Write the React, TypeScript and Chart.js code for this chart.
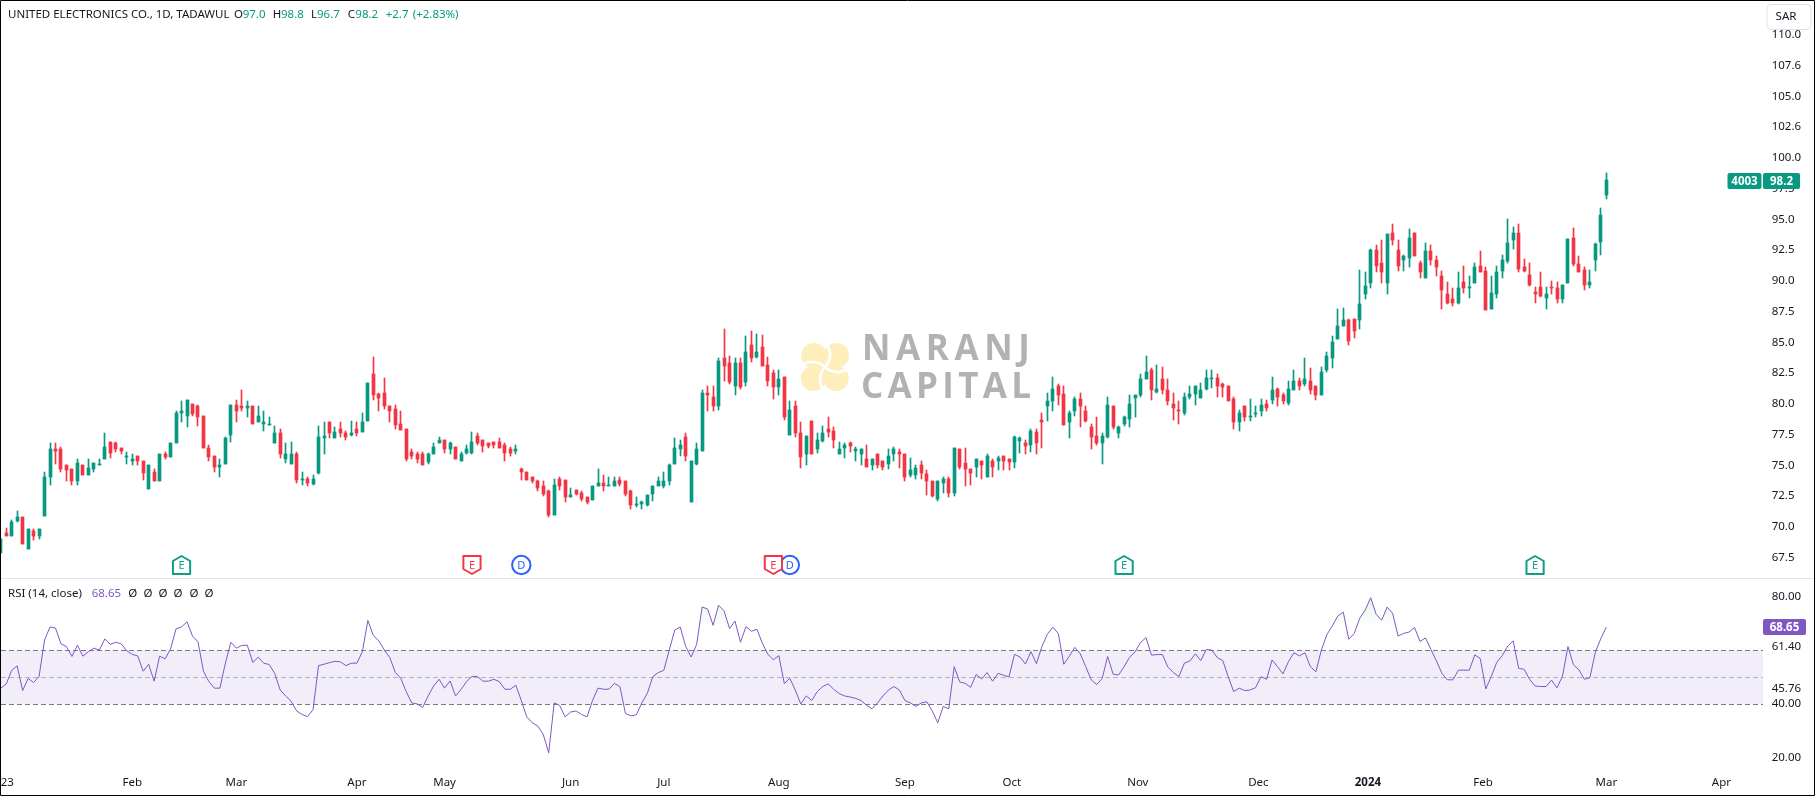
import React, { useEffect, useRef } from "react";
import { Chart, registerables } from "chart.js";

Chart.register(...registerables);

const opens = [
  67.9,69.5,69.3,70.5,70.8,68.2,69.7,69.3,70.9,74.1,
  76.3,76.3,75.0,74.7,73.7,75.0,74.2,74.7,75.0,75.5,
  76.9,76.8,76.4,75.7,75.4,75.8,75.4,73.1,74.5,73.7,
  75.9,75.7,76.8,79.3,79.0,80.0,79.8,79.0,76.4,75.8,
  74.9,75.1,77.5,79.9,79.8,79.7,79.8,78.5,78.4,78.3,
  76.8,77.6,75.5,75.1,75.9,73.8,73.9,73.5,74.4,77.2,
  78.5,77.2,78.0,77.6,77.5,78.0,77.7,78.6,82.4,80.8,
  80.9,79.8,79.6,78.4,78.0,76.1,75.9,75.9,75.3,75.9,
  76.8,77.1,76.3,76.5,75.4,76.0,76.0,77.4,77.1,76.8,
  76.9,76.9,76.7,76.3,76.2,74.7,74.5,74.1,73.7,73.3,
  72.9,71.0,73.9,73.8,72.4,73.0,72.8,72.4,72.2,73.3,
  73.6,73.3,73.3,73.8,73.7,72.9,71.8,71.9,71.8,72.7,
  73.3,73.3,73.7,75.1,76.3,77.3,72.0,75.1,76.2,80.9,
  80.6,79.8,83.7,83.3,81.5,83.3,81.8,84.8,83.8,84.6,
  83.2,82.5,81.4,82.2,77.5,79.8,77.6,75.9,78.6,76.3,
  77.0,78.0,77.8,75.9,76.4,76.8,76.2,75.9,75.5,75.0,
  75.9,75.4,75.1,75.9,76.1,75.9,74.2,74.2,75.0,74.3,
  73.7,72.3,73.6,73.9,72.8,76.3,75.2,74.7,74.9,75.4,
  74.1,75.4,75.4,75.8,75.5,75.3,77.0,76.8,76.7,77.7,
  78.7,79.8,80.2,81.5,80.8,78.5,79.4,80.4,79.4,78.1,
  77.4,76.8,77.3,79.8,77.6,78.4,78.8,80.5,80.7,82.0,
  82.8,81.0,82.0,81.1,80.0,79.5,79.3,80.6,80.8,80.5,
  81.2,82.0,82.1,81.6,81.5,80.4,78.5,79.8,78.9,79.2,
  79.4,80.0,80.3,81.2,80.7,80.1,81.1,81.9,81.6,81.9,
  81.5,80.7,82.8,83.7,85.3,86.3,86.8,86.9,86.8,88.9,
  89.8,92.5,91.5,89.8,93.9,92.5,91.7,91.9,93.9,91.5,
  90.2,92.4,91.7,90.4,88.9,88.5,88.2,89.9,89.4,89.8,
  91.2,90.8,87.7,88.9,90.8,91.6,93.3,93.9,91.1,90.5,
  89.1,89.5,88.6,89.5,89.4,88.5,89.8,93.5,91.4,90.9,
  89.7,91.7,93.2,97.0,
];

const highs = [
  69.1,69.9,70.6,71.3,70.8,69.8,69.8,69.8,74.5,76.8,
  76.8,76.5,75.0,74.7,75.5,75.0,75.5,75.2,75.5,77.6,
  76.9,76.9,76.4,76.1,75.9,75.8,75.4,75.0,74.7,75.9,
  76.1,76.8,79.4,80.2,80.3,80.0,79.9,79.0,76.7,75.8,
  75.5,77.3,79.9,80.3,81.1,80.2,79.8,79.8,79.4,78.9,
  78.2,78.0,76.8,76.9,76.1,74.5,74.1,74.2,78.2,78.5,
  78.5,78.1,78.5,77.8,78.6,78.5,79.3,81.7,83.8,80.9,
  82.1,79.8,79.9,79.4,78.0,76.3,76.1,76.1,76.0,76.8,
  77.3,77.1,76.9,76.5,76.1,76.7,77.7,77.6,77.1,76.8,
  76.9,77.2,76.8,76.5,76.7,74.8,74.5,74.1,73.8,73.7,
  73.0,73.9,74.1,73.8,73.2,73.0,72.9,72.4,73.3,74.7,
  74.2,74.1,74.1,74.1,73.7,73.0,72.4,72.1,72.6,73.3,
  74.1,74.5,75.1,77.2,77.1,77.6,75.4,76.8,81.1,81.5,
  81.5,83.7,86.1,83.9,83.7,83.7,85.5,85.9,85.7,85.6,
  83.8,82.8,82.8,82.2,80.2,80.2,78.5,77.4,78.6,77.6,
  78.2,78.9,78.1,76.9,76.8,76.9,76.5,76.3,76.7,75.5,
  75.9,75.4,76.3,76.5,76.3,75.9,75.6,75.0,75.4,74.6,
  73.7,73.7,74.1,74.1,76.4,76.3,76.4,74.7,75.5,75.4,
  75.9,75.5,75.8,75.8,75.5,77.4,77.3,77.1,78.0,78.0,
  79.3,80.9,82.2,81.6,81.5,79.4,80.6,80.9,79.8,78.4,
  78.9,77.6,80.6,79.8,78.2,79.0,80.7,80.7,82.4,83.9,
  82.9,83.2,83.0,82.0,80.9,80.2,80.9,81.5,81.5,81.7,
  82.8,82.8,82.4,81.7,81.5,80.6,79.5,79.8,80.4,79.8,
  80.4,80.3,82.2,81.3,80.9,81.9,82.8,82.1,83.7,82.9,
  81.5,83.0,84.2,85.5,87.7,87.8,86.9,86.9,90.9,90.7,
  92.6,92.9,93.3,93.8,94.6,93.3,92.1,94.2,93.9,91.6,
  93.1,92.9,92.0,90.8,89.9,89.4,90.7,91.2,90.4,91.5,
  92.4,91.1,90.4,91.2,92.1,95.0,94.4,94.6,91.8,91.5,
  89.5,90.7,89.5,90.0,89.9,89.7,93.4,94.3,92.0,91.1,
  90.9,93.1,95.9,98.8,
];

const lows = [
  67.9,69.3,69.3,70.4,68.6,68.2,68.9,69.0,70.9,73.4,
  75.1,74.5,73.7,73.4,73.4,74.2,74.2,74.5,75.0,75.5,
  75.6,76.1,75.9,75.1,75.0,75.0,73.8,73.1,73.7,73.7,
  75.5,75.7,76.8,78.5,78.1,79.0,78.2,76.4,75.4,74.5,
  74.1,75.1,76.9,78.5,79.4,78.9,78.4,78.5,77.8,78.3,
  76.8,75.6,75.2,75.1,73.6,73.4,73.3,73.4,74.3,75.9,
  77.2,77.2,77.3,77.1,77.4,77.4,77.7,78.6,80.3,79.4,
  79.6,78.5,78.0,77.9,75.4,75.5,75.2,75.0,75.1,75.9,
  76.8,76.0,75.9,75.5,75.4,75.9,75.9,76.7,76.1,76.4,
  76.4,76.4,75.4,75.8,75.9,73.8,73.8,73.6,72.9,72.5,
  70.8,71.0,73.0,72.0,72.4,72.6,72.1,71.9,72.2,73.3,
  72.9,73.3,73.3,73.3,72.5,71.5,71.6,71.5,71.7,72.1,
  73.3,73.2,73.4,75.1,75.8,75.4,72.0,75.0,76.2,79.4,
  79.4,79.5,81.9,81.6,80.7,81.2,81.5,83.4,83.7,83.1,
  81.5,80.4,80.7,78.7,77.5,77.3,74.8,75.0,75.9,76.0,
  76.9,77.3,76.4,75.9,75.6,76.1,75.4,75.0,74.9,74.6,
  74.8,74.6,74.7,75.4,74.8,73.7,74.1,73.9,73.9,72.6,
  72.4,72.1,72.8,72.4,72.5,74.7,73.3,73.4,74.1,73.9,
  74.1,74.1,74.6,74.6,74.6,74.8,76.0,75.9,76.1,75.9,
  76.4,78.6,79.4,79.9,78.3,77.2,79.0,78.1,78.5,76.3,
  76.7,75.1,77.2,78.0,77.2,78.2,78.1,78.9,80.6,82.0,
  80.3,80.9,80.8,79.9,78.7,78.4,79.1,80.4,79.9,80.5,
  81.1,81.3,80.6,80.6,80.2,78.0,77.8,78.6,78.6,78.9,
  79.0,79.4,80.0,79.8,80.0,79.9,81.1,81.1,81.5,80.8,
  80.3,80.7,82.6,82.9,85.3,86.3,84.8,85.4,86.1,88.5,
  89.4,90.7,89.8,88.9,92.9,90.8,90.8,91.1,92.0,90.2,
  90.2,91.3,90.4,87.7,88.1,88.0,88.1,89.0,88.6,89.8,
  90.7,87.6,87.7,88.6,90.2,91.5,92.6,90.7,90.7,89.6,
  88.2,88.7,87.7,88.9,88.2,88.2,89.8,91.2,90.7,89.3,
  89.4,90.8,92.1,96.7,
];

const closes = [
  69.0,69.3,70.4,70.8,68.6,69.8,69.3,69.8,74.1,76.3,
  76.2,74.7,74.6,73.7,75.2,74.2,74.8,75.2,75.1,76.5,
  76.0,76.3,76.2,75.8,75.5,75.4,74.4,75.0,73.7,75.9,
  75.7,76.8,79.3,79.4,80.3,79.2,78.9,76.4,75.7,74.9,
  75.0,77.2,79.9,79.4,79.7,79.8,78.4,79.0,78.5,78.4,
  77.6,75.9,75.9,75.9,73.8,73.9,73.6,73.9,77.3,77.4,
  77.6,77.7,77.6,77.3,77.6,77.6,78.5,81.7,80.7,80.5,
  79.8,79.4,78.3,77.9,75.5,75.8,75.5,75.0,75.9,76.5,
  77.1,76.3,76.8,75.5,75.9,76.3,76.9,76.8,76.6,76.6,
  76.7,76.4,76.0,76.0,76.3,74.5,73.8,73.7,73.2,72.7,
  71.0,73.4,73.3,72.4,72.6,72.7,72.3,72.0,73.3,73.6,
  73.3,73.4,73.7,73.5,72.7,71.8,71.9,72.0,72.6,73.3,
  73.7,73.7,75.0,76.4,76.7,75.8,75.4,76.3,80.9,80.7,
  79.8,83.5,83.1,81.8,83.3,81.4,84.2,83.7,84.2,83.1,
  81.9,81.4,82.0,78.9,79.5,77.6,75.7,77.4,75.9,77.1,
  77.6,77.7,77.1,76.3,76.7,76.6,76.3,76.3,74.9,75.5,
  75.0,74.9,75.8,76.3,75.9,74.1,74.6,74.8,74.4,73.7,
  72.5,73.7,73.9,72.8,76.4,74.9,74.7,74.4,75.5,75.0,
  75.8,74.9,75.6,75.4,75.3,77.3,77.2,76.6,77.8,76.8,
  78.5,80.2,81.2,80.7,78.3,79.3,80.4,79.8,78.6,77.3,
  76.8,77.4,79.9,78.1,78.1,78.9,80.0,80.7,82.0,82.6,
  81.1,81.2,81.1,80.2,79.7,79.4,80.6,80.8,81.5,81.1,
  82.1,82.1,81.5,81.4,80.2,78.5,79.3,78.9,79.0,79.3,
  79.9,79.7,81.1,80.6,80.2,81.2,81.9,81.5,82.0,81.1,
  80.7,82.6,83.9,85.0,86.3,86.8,85.1,85.9,88.1,89.6,
  92.5,91.2,90.7,93.8,93.3,91.2,92.0,93.5,92.0,90.7,
  92.4,91.7,91.1,89.3,88.2,88.2,89.4,89.4,89.5,91.1,
  90.7,87.6,89.0,90.7,91.7,93.1,93.9,91.0,90.8,89.7,
  88.9,88.8,88.9,89.4,88.5,89.7,93.4,91.4,90.7,89.7,
  89.9,93.0,95.4,98.2,
];

const rsiValues = [
  45.9,47.4,52.5,54.2,45.0,49.5,48.0,50.2,63.8,68.7,
  68.3,62.4,61.4,57.7,61.9,57.8,59.5,60.8,60.1,64.2,
  62.2,63.0,62.4,59.8,58.5,57.9,52.2,54.8,48.5,57.8,
  56.8,60.5,68.0,68.7,70.6,65.3,63.2,52.2,48.3,45.9,
  45.9,55.2,63.0,60.8,61.8,61.9,55.5,57.4,55.2,54.7,
  51.4,45.2,43.0,41.0,37.4,36.1,35.3,37.9,54.3,54.8,
  55.4,55.9,55.7,54.3,55.2,55.2,59.5,71.1,65.5,63.5,
  60.1,57.3,51.8,49.6,44.6,40.4,40.0,38.7,43.0,46.7,
  49.2,45.9,48.6,43.0,45.4,48.3,50.3,50.2,48.5,48.5,
  49.2,48.3,45.5,45.5,47.0,41.3,35.2,33.0,31.8,28.7,
  21.8,40.4,39.5,35.2,37.0,37.4,36.1,35.2,41.3,45.9,
  45.5,45.5,47.7,46.5,36.5,35.6,36.0,40.4,44.0,50.2,
  51.7,52.5,60.1,67.5,68.7,61.4,57.5,62.2,76.1,75.4,
  69.3,76.8,74.7,68.1,70.9,63.0,68.8,67.1,67.8,62.6,
  58.5,56.5,58.0,47.6,49.6,45.2,40.0,43.0,41.3,44.6,
  46.5,47.5,45.5,43.9,43.0,42.6,42.1,41.3,39.5,38.2,
  40.4,43.0,45.2,46.5,45.2,41.3,40.4,39.1,40.4,40.8,
  37.4,33.0,39.1,38.2,53.9,48.2,47.7,46.2,51.0,49.3,
  51.7,48.5,51.4,50.7,50.1,58.5,57.5,54.9,59.5,55.0,
  61.4,66.0,68.6,66.2,54.8,57.8,61.1,58.7,53.9,49.0,
  47.2,49.5,57.7,51.1,50.8,53.9,57.4,59.4,62.9,64.7,
  58.2,58.4,58.4,53.7,51.7,50.2,55.2,56.0,58.7,56.2,
  60.3,60.1,57.3,56.2,50.2,44.6,45.9,45.0,45.2,46.1,
  50.2,49.2,56.4,53.9,51.2,55.8,59.1,57.9,59.1,53.9,
  52.0,60.1,65.8,69.1,72.8,74.2,64.1,66.3,71.9,75.0,
  79.6,73.4,71.2,76.1,73.8,65.3,66.3,66.8,68.5,63.3,
  64.6,60.3,56.0,51.4,49.0,49.0,52.6,52.6,52.6,58.3,
  56.9,45.6,50.2,55.5,58.0,61.6,63.5,53.3,52.9,49.2,
  46.7,46.5,46.5,48.9,46.0,50.4,61.4,54.6,52.7,49.2,
  49.8,59.3,64.4,68.65,
];

const priceTickValues = [110,107.5,105,102.5,100,97.5,95,92.5,90,87.5,85,82.5,80,77.5,75,72.5,70,67.5];
const priceTickLabels = ["110.0","107.6","105.0","102.6","100.0","97.5","95.0","92.5","90.0","87.5","85.0","82.5","80.0","77.5","75.0","72.5","70.0","67.5"];
const rsiTickValues = [80,61.4,45.76,40,20];
const rsiTickLabels = ["80.00","61.40","45.76","40.00","20.00"];
const timeTickBars = [0,24,43,65,81,104,121,142,165,184.5,207.5,229.5,249.5,270.5,293,314];
const timeTickLabels = ["2023","Feb","Mar","Apr","May","Jun","Jul","Aug","Sep","Oct","Nov","Dec","2024","Feb","Mar","Apr"];
const earningsUp = [33,205,280];
const earningsDown = [86,141];
const dividends = [95,144];

const GREEN = "#089981";
const RED = "#F23645";
const PURPLE = "#7E57C2";
const INK = "#131722";
const FONT = '"Noto Sans", sans-serif';

const barColors = closes.map((c, i) => (c >= opens[i] ? GREEN : RED));
const wickData = highs.map((h, i) => ({ x: i, y: [lows[i], h] }));
const bodyData = opens.map((o, i) => ({ x: i, y: [o, closes[i]] }));
const rsiData = rsiValues.map((v, i) => ({ x: i, y: v }));

const snapPlugin = {
  id: "snap",
  afterDatasetsUpdate(chart: any) {
    [0, 1].forEach((d) => {
      chart.getDatasetMeta(d).data.forEach((el: any) => {
        el.x = Math.floor(el.x) + 0.5;
        const t = Math.round(Math.min(el.y, el.base));
        let b = Math.round(Math.max(el.y, el.base));
        if (b <= t) b = t + 1;
        el.y = t;
        el.base = b;
      });
    });
  },
};

function drawWatermark(ctx: CanvasRenderingContext2D) {
  ctx.save();
  const cx = 825, cy = 367;
  ctx.fillStyle = "#FDEEBB";
  const blobs: [number, number][] = [[-11.2, -11.5], [11.5, -11.5], [-11.5, 11.5], [11.2, 11.5]];
  blobs.forEach(([dx, dy]) => {
    ctx.beginPath();
    ctx.arc(cx + dx, cy + dy, 12.6, 0, Math.PI * 2);
    ctx.fill();
  });
  ctx.beginPath();
  ctx.arc(cx, cy, 16, 0, Math.PI * 2);
  ctx.fill();
  ctx.strokeStyle = "#FFFFFF";
  ctx.lineWidth = 2.6;
  ctx.lineCap = "round";
  ctx.translate(cx, cy);
  for (let i = 0; i < 4; i++) {
    ctx.beginPath();
    ctx.moveTo(-1, -27);
    ctx.quadraticCurveTo(10, -13, 1, -1);
    ctx.stroke();
    ctx.rotate(Math.PI / 2);
  }
  ctx.setTransform(1, 0, 0, 1, 0, 0);
  ctx.fillStyle = "#B2B2B2";
  ctx.textBaseline = "alphabetic";
  ctx.textAlign = "left";
  ctx.font = 'bold 35px "Open Sans", sans-serif';
  (ctx as any).letterSpacing = "5.6px";
  ctx.fillText("NARANJ", 862, 360);
  (ctx as any).letterSpacing = "4.3px";
  ctx.fillText("CAPITAL", 861, 398);
  ctx.restore();
}

const panePlugin = {
  id: "pane",
  beforeDatasetsDraw(chart: any) {
    const { ctx, chartArea, scales } = chart;
    const r = scales.rsi;
    drawWatermark(ctx);
    const y60 = r.getPixelForValue(60), y50 = r.getPixelForValue(50), y40 = r.getPixelForValue(40);
    ctx.save();
    ctx.fillStyle = "rgba(126,87,194,0.1)";
    ctx.fillRect(chartArea.left, y60, chartArea.right - chartArea.left, y40 - y60);
    ctx.lineWidth = 1;
    ctx.setLineDash([5, 3]);
    [[y60, "#787B86"], [y50, "rgba(120,123,134,0.5)"], [y40, "#787B86"]].forEach(([y, c]: any) => {
      ctx.strokeStyle = c;
      ctx.beginPath();
      ctx.moveTo(chartArea.left, Math.round(y) + 0.5);
      ctx.lineTo(chartArea.right, Math.round(y) + 0.5);
      ctx.stroke();
    });
    ctx.restore();
  },
};

function earningsMark(ctx: CanvasRenderingContext2D, x: number, up: boolean) {
  const color = up ? "#0C9F86" : RED;
  const half = 8.6;
  const top = 556, bottom = 574;
  ctx.beginPath();
  if (up) {
    ctx.moveTo(x, top);
    ctx.lineTo(x + half, top + 5);
    ctx.lineTo(x + half, bottom);
    ctx.lineTo(x - half, bottom);
    ctx.lineTo(x - half, top + 5);
  } else {
    ctx.moveTo(x - half, top);
    ctx.lineTo(x + half, top);
    ctx.lineTo(x + half, bottom - 5);
    ctx.lineTo(x, bottom);
    ctx.lineTo(x - half, bottom - 5);
  }
  ctx.closePath();
  ctx.lineJoin = "round";
  ctx.lineWidth = 2;
  ctx.strokeStyle = color;
  ctx.fillStyle = "#FFFFFF";
  ctx.fill();
  ctx.stroke();
  ctx.fillStyle = color;
  ctx.font = `11px ${FONT}`;
  ctx.textAlign = "center";
  ctx.textBaseline = "middle";
  ctx.fillText("E", x, 565.5);
}

function dividendMark(ctx: CanvasRenderingContext2D, x: number) {
  ctx.beginPath();
  ctx.arc(x, 565, 9.2, 0, Math.PI * 2);
  ctx.lineWidth = 2;
  ctx.strokeStyle = "#2962FF";
  ctx.fillStyle = "#FFFFFF";
  ctx.fill();
  ctx.stroke();
  ctx.fillStyle = "#2962FF";
  ctx.font = `11px ${FONT}`;
  ctx.textAlign = "center";
  ctx.textBaseline = "middle";
  ctx.fillText("D", x, 565.5);
}

const overlayPlugin = {
  id: "overlay",
  afterDraw(chart: any) {
    const { ctx, scales, width, height } = chart;
    const { x: xs, y: ys, rsi } = scales;
    ctx.save();
    ctx.fillStyle = "#E0E3EB";
    ctx.fillRect(0, 578, width, 1);

    dividends.forEach((k) => dividendMark(ctx, xs.getPixelForValue(k)));
    earningsUp.forEach((k) => earningsMark(ctx, xs.getPixelForValue(k), true));
    earningsDown.forEach((k) => earningsMark(ctx, xs.getPixelForValue(k), false));

    ctx.textBaseline = "middle";
    ctx.textAlign = "left";
    ctx.font = `11.5px ${FONT}`;
    const head: [string, number, string][] = [
      ["UNITED ELECTRONICS CO., 1D, TADAWUL", 8, INK],
      ["O", 234, INK], ["97.0", 242.7, GREEN],
      ["H", 272.7, INK], ["98.8", 281, GREEN],
      ["L", 311, INK], ["96.7", 317, GREEN],
      ["C", 347.7, INK], ["98.2", 355.3, GREEN],
      ["+2.7", 385.7, GREEN], ["(+2.83%)", 412.7, GREEN],
    ];
    head.forEach(([t, x, c]) => {
      ctx.fillStyle = c;
      ctx.fillText(t, x, 15);
    });

    ctx.fillStyle = INK;
    ctx.fillText("RSI (14, close)", 8, 594);
    ctx.fillStyle = PURPLE;
    ctx.fillText("68.65", 91.7, 594);
    ctx.fillStyle = INK;
    ctx.textAlign = "center";
    [132.7, 148, 163, 178, 194, 209].forEach((x) => ctx.fillText("Ø", x, 594));

    // currency button
    ctx.beginPath();
    ctx.roundRect(1767, 4.5, 44, 25, 4);
    ctx.fillStyle = "#FFFFFF";
    ctx.fill();
    ctx.strokeStyle = "#E0E3EB";
    ctx.lineWidth = 1;
    ctx.stroke();
    ctx.fillStyle = INK;
    ctx.textAlign = "center";
    ctx.fillText("SAR", 1786, 17);

    // last price tags
    const py = Math.round(ys.getPixelForValue(closes[closes.length - 1])) + 1;
    ctx.fillStyle = GREEN;
    ctx.beginPath();
    ctx.roundRect(1727.5, py - 8, 34, 16, 2);
    ctx.fill();
    ctx.beginPath();
    ctx.roundRect(1763, py - 8, 37, 16, 2);
    ctx.fill();
    ctx.fillStyle = "#FFFFFF";
    ctx.font = `bold 11.5px ${FONT}`;
    ctx.fillText("4003", 1744.5, py + 0.5);
    ctx.fillText("98.2", 1781.5, py + 0.5);

    const ry = Math.round(rsi.getPixelForValue(rsiValues[rsiValues.length - 1]));
    ctx.fillStyle = PURPLE;
    ctx.beginPath();
    ctx.roundRect(1763, ry - 8, 43, 16, 2);
    ctx.fill();
    ctx.fillStyle = "#FFFFFF";
    ctx.fillText("68.65", 1784.5, ry + 0.5);

    // frame
    ctx.strokeStyle = "#000000";
    ctx.lineWidth = 1;
    ctx.strokeRect(0.5, 0.5, width - 1, height - 1);
    ctx.restore();
  },
};

const flatPadding = (s: any) => {
  s.paddingLeft = 0;
  s.paddingRight = 0;
  s.paddingTop = 0;
  s.paddingBottom = 0;
};

export default function App() {
  const ref = useRef<HTMLCanvasElement | null>(null);
  useEffect(() => {
    const canvas = ref.current as HTMLCanvasElement;
    const ctx = canvas.getContext("2d") as CanvasRenderingContext2D;
    const overFill = ctx.createLinearGradient(0, 590, 0, 624);
    overFill.addColorStop(0, "rgba(76,175,80,0.18)");
    overFill.addColorStop(1, "rgba(76,175,80,0.02)");

    const chart = new Chart(canvas, {
      type: "bar",
      data: {
        datasets: [
          {
            label: "wick",
            data: wickData as any,
            backgroundColor: barColors,
            barThickness: 1,
            grouped: false,
            borderWidth: 0,
            borderSkipped: false,
            xAxisID: "x",
            yAxisID: "y",
          },
          {
            label: "body",
            data: bodyData as any,
            backgroundColor: barColors,
            barThickness: 3,
            grouped: false,
            borderWidth: 0,
            borderSkipped: false,
            xAxisID: "x",
            yAxisID: "y",
          },
          {
            type: "line",
            label: "RSI",
            data: rsiData as any,
            borderColor: PURPLE,
            borderWidth: 1,
            pointRadius: 0,
            tension: 0,
            fill: { value: 70, above: overFill, below: "rgba(0,0,0,0)" },
            xAxisID: "x",
            yAxisID: "rsi",
          },
        ] as any,
      },
      options: {
        responsive: false,
        animation: false,
        devicePixelRatio: 1,
        layout: { padding: { left: 1, top: 2, right: 2, bottom: 2 } },
        plugins: { legend: { display: false }, tooltip: { enabled: false } },
        scales: {
          x: {
            type: "linear",
            offset: false,
            min: 0.055,
            max: 321.59,
            grid: { display: false, drawTicks: false },
            border: { display: false },
            afterBuildTicks: (s: any) => {
              s.ticks = timeTickBars.map((v) => ({ value: v }));
            },
            afterFit: (s: any) => {
              s.height = 28;
              flatPadding(s);
            },
            ticks: {
              autoSkip: false,
              maxRotation: 0,
              padding: 10,
              color: INK,
              font: (c: any) => ({ family: '"Noto Sans", sans-serif', size: 11.5, weight: c.tick && c.tick.value === 249.5 ? "bold" : "normal" }),
              callback: (v: any) => timeTickLabels[timeTickBars.indexOf(v)],
            },
          },
          y: {
            position: "right",
            stack: "panes",
            stackWeight: 576,
            min: 65.85,
            max: 112.68,
            grid: { display: false, drawTicks: false },
            border: { display: false },
            afterBuildTicks: (s: any) => {
              s.ticks = priceTickValues.map((v) => ({ value: v }));
            },
            afterFit: (s: any) => {
              s.width = 50;
              flatPadding(s);
            },
            ticks: {
              autoSkip: false,
              padding: 8.7,
              color: INK,
              font: { family: '"Noto Sans", sans-serif', size: 11.5 },
              callback: (v: any) => priceTickLabels[priceTickValues.indexOf(v)],
            },
          },
          rsi: {
            position: "right",
            stack: "panes",
            stackWeight: 188,
            min: 16.9,
            max: 86.93,
            grid: { display: false, drawTicks: false },
            border: { display: false },
            afterBuildTicks: (s: any) => {
              s.ticks = rsiTickValues.map((v) => ({ value: v }));
            },
            afterFit: (s: any) => {
              s.width = 50;
              flatPadding(s);
            },
            ticks: {
              autoSkip: false,
              padding: 8.7,
              color: INK,
              font: { family: '"Noto Sans", sans-serif', size: 11.5 },
              callback: (v: any) => rsiTickLabels[rsiTickValues.indexOf(v)],
            },
          },
        },
      } as any,
      plugins: [snapPlugin, panePlugin, overlayPlugin] as any,
    });
    return () => chart.destroy();
  }, []);
  return (
    <div style={{ position: "fixed", left: 0, top: 0, width: 1815, height: 796, background: "#FFFFFF" }}>
      <canvas ref={ref} width={1815} height={796} style={{ display: "block", width: 1815, height: 796 }} />
    </div>
  );
}
